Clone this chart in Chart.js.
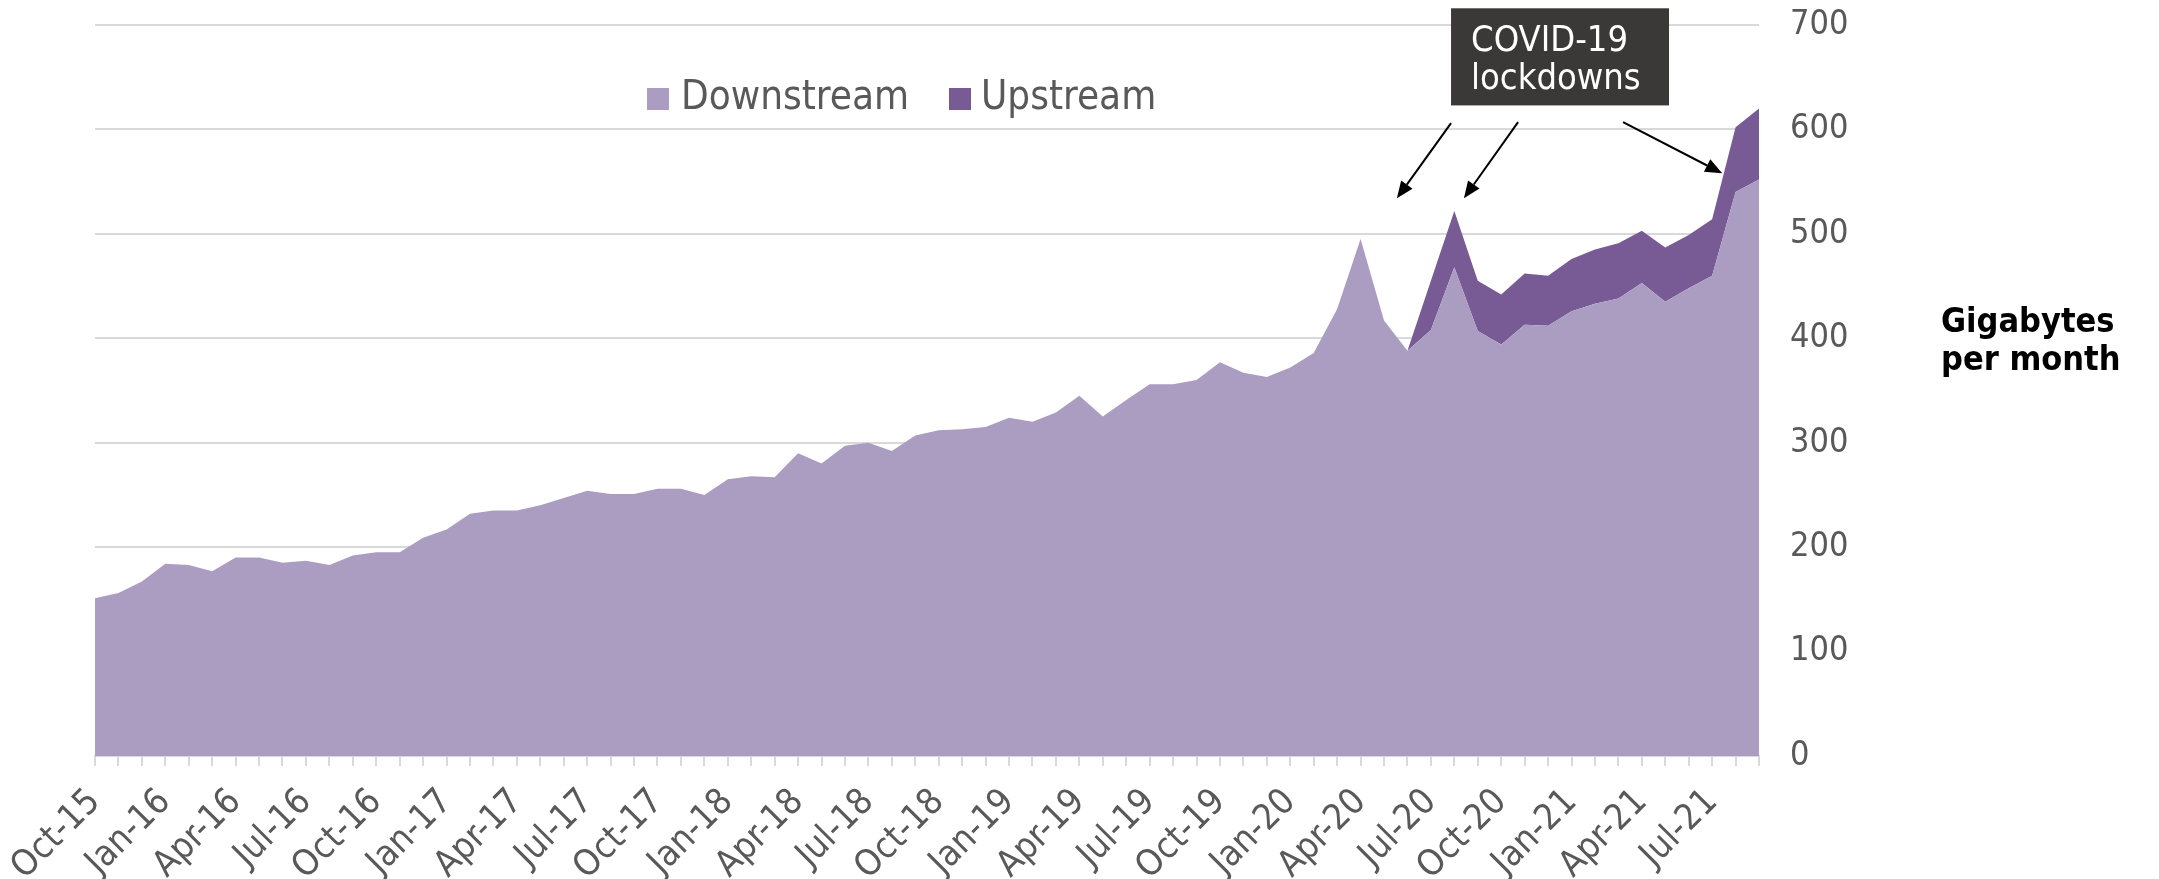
<!DOCTYPE html>
<html>
<head>
<meta charset="utf-8">
<script src="https://cdn.jsdelivr.net/npm/chart.js@4.4.1/dist/chart.umd.min.js"></script>
<style>
  html, body { margin: 0; padding: 0; background: #fff; }
  canvas { display: block; }
</style>
</head>
<body>
<canvas id="chart" width="2159" height="879"></canvas>
<script>
// monthly categories, Oct-15 .. Sep-21
const months = ['Oct-15','Nov-15','Dec-15','Jan-16','Feb-16','Mar-16','Apr-16','May-16','Jun-16','Jul-16','Aug-16','Sep-16',
  'Oct-16','Nov-16','Dec-16','Jan-17','Feb-17','Mar-17','Apr-17','May-17','Jun-17','Jul-17','Aug-17','Sep-17',
  'Oct-17','Nov-17','Dec-17','Jan-18','Feb-18','Mar-18','Apr-18','May-18','Jun-18','Jul-18','Aug-18','Sep-18',
  'Oct-18','Nov-18','Dec-18','Jan-19','Feb-19','Mar-19','Apr-19','May-19','Jun-19','Jul-19','Aug-19','Sep-19',
  'Oct-19','Nov-19','Dec-19','Jan-20','Feb-20','Mar-20','Apr-20','May-20','Jun-20','Jul-20','Aug-20','Sep-20',
  'Oct-20','Nov-20','Dec-20','Jan-21','Feb-21','Mar-21','Apr-21','May-21','Jun-21','Jul-21','Aug-21','Sep-21'];

// gigabytes per month
const downstream = [151,156,167,184,183,177,190,190,185,187,183,192,
  195,195,209,217,232,235,235,240,247,254,251,251,
  256,256,250,265,268,267,290,280,297,300,292,307,
  312,313,315,324,320,329,345,325,341,356,356,360,
  377,367,363,372,386,428,495,417,388,408,468,407,
  394,413,412,426,433,438,453,435,448,460,540,552];

const upstream = [0,0,0,0,0,0,0,0,0,0,0,0,
  0,0,0,0,0,0,0,0,0,0,0,0,
  0,0,0,0,0,0,0,0,0,0,0,0,
  0,0,0,0,0,0,0,0,0,0,0,0,
  0,0,0,0,0,0,0,0,0,47,54,48,
  48,49,48,50,52,53,50,52,51,54,62,68];

const yTicks = [0, 100, 200, 300, 400, 500, 600, 700];

const FONT = "'DejaVu Sans Condensed', 'DejaVu Sans', sans-serif";
const GREY_TEXT = '#595959';
const GRID = '#d9d9d9';
const COL_DOWN = '#ab9cc1';
const COL_UP = '#785b94';

// legend, axis title, covid box and arrows
const extras = {
  id: 'extras',
  afterDatasetsDraw(chart) {
    const ctx = chart.ctx;
    const x = chart.scales.x, y = chart.scales.y;
    ctx.save();

    // legend
    ctx.font = '40px ' + FONT;
    ctx.textBaseline = 'middle';
    ctx.fillStyle = COL_DOWN;
    ctx.fillRect(647, 88, 22, 22);
    ctx.fillStyle = GREY_TEXT;
    ctx.fillText('Downstream', 681, 99);
    ctx.fillStyle = COL_UP;
    ctx.fillRect(949, 88, 22, 22);
    ctx.fillStyle = GREY_TEXT;
    ctx.fillText('Upstream', 981, 99);

    // y axis title
    ctx.fillStyle = '#000';
    ctx.font = 'bold 34px ' + FONT;
    ctx.textBaseline = 'alphabetic';
    ctx.fillText('Gigabytes', 1941, 332);
    ctx.fillText('per month', 1941, 370);

    // annotation box
    const bx0 = x.getPixelForValue(57.86), bx1 = x.getPixelForValue(67.16);
    const by0 = y.getPixelForValue(716), by1 = y.getPixelForValue(623);
    ctx.fillStyle = '#3b3838';
    ctx.fillRect(bx0, by0, bx1 - bx0, by1 - by0);
    ctx.fillStyle = '#fff';
    ctx.font = '36px ' + FONT;
    ctx.fillText('COVID-19', bx0 + 20, by0 + 43);
    ctx.fillText('lockdowns', bx0 + 20, by0 + 81);

    // arrows
    const arrows = [
      [57.86, 606, 55.55, 534],
      [60.72, 607, 58.41, 534],
      [65.2, 607, 69.43, 558]
    ];
    ctx.strokeStyle = '#000';
    ctx.fillStyle = '#000';
    ctx.lineWidth = 2;
    arrows.forEach(a => {
      const x0 = x.getPixelForValue(a[0]), y0 = y.getPixelForValue(a[1]);
      const x1 = x.getPixelForValue(a[2]), y1 = y.getPixelForValue(a[3]);
      const ang = Math.atan2(y1 - y0, x1 - x0);
      const hl = 17, hw = 7;
      const bx = x1 - hl * Math.cos(ang), by = y1 - hl * Math.sin(ang);
      ctx.beginPath();
      ctx.moveTo(x0, y0);
      ctx.lineTo(bx, by);
      ctx.stroke();
      ctx.beginPath();
      ctx.moveTo(x1, y1);
      ctx.lineTo(bx + hw * Math.sin(ang), by - hw * Math.cos(ang));
      ctx.lineTo(bx - hw * Math.sin(ang), by + hw * Math.cos(ang));
      ctx.closePath();
      ctx.fill();
    });

    ctx.restore();
  }
};

new Chart(document.getElementById('chart'), {
  type: 'line',
  data: {
    labels: months,
    datasets: [
      {
        label: 'Downstream',
        data: downstream,
        backgroundColor: COL_DOWN,
        borderWidth: 0,
        pointRadius: 0,
        fill: 'origin',
        tension: 0
      },
      {
        label: 'Upstream',
        data: upstream,
        backgroundColor: COL_UP,
        borderWidth: 0,
        pointRadius: 0,
        fill: '-1',
        tension: 0
      }
    ]
  },
  options: {
    responsive: false,
    devicePixelRatio: 1,
    animation: false,
    layout: { padding: { top: 25, left: 95, right: 0, bottom: 0 }, autoPadding: false },
    plugins: {
      legend: { display: false },
      tooltip: { enabled: false }
    },
    scales: {
      x: {
        offset: false,
        grid: {
          drawOnChartArea: false,
          drawTicks: true,
          tickLength: 10,
          color: GRID,
          lineWidth: 2
        },
        border: { display: true, color: GRID, width: 2 },
        ticks: {
          autoSkip: false,
          minRotation: 45,
          maxRotation: 45,
          padding: 15,
          color: GREY_TEXT,
          font: { family: FONT, size: 36 },
          callback: (v, i) => (i % 3 === 0 ? months[i] : '')
        },
        afterFit: s => { s.height = 123; s.paddingLeft = 0; s.paddingRight = 0; }
      },
      y: {
        position: 'right',
        stacked: true,
        min: 0,
        max: 700,
        afterBuildTicks: s => { s.ticks = yTicks.map(v => ({ value: v })); },
        grid: { color: GRID, lineWidth: 2, drawTicks: false },
        border: { display: false },
        ticks: {
          padding: 31,
          color: GREY_TEXT,
          font: { family: FONT, size: 34 }
        },
        afterFit: s => { s.width = 400; s.paddingTop = 0; s.paddingBottom = 0; }
      }
    }
  },
  plugins: [extras]
});
</script>
</body>
</html>
